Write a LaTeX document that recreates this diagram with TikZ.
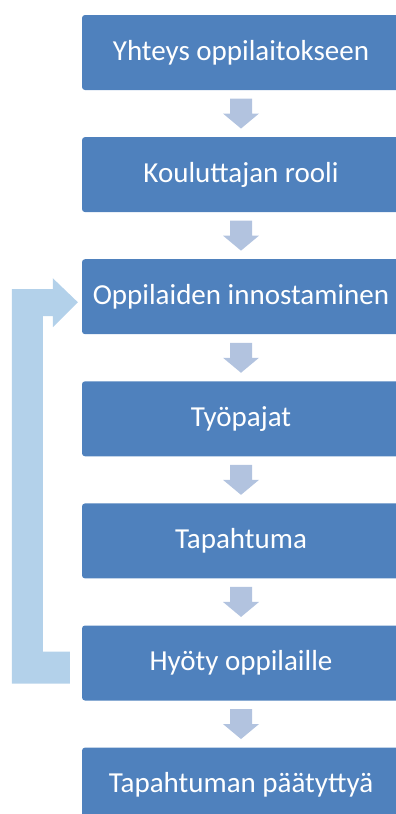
\documentclass[tikz,border=0pt]{standalone}
\usepackage{fontspec}
\setmainfont{Carlito}
\usetikzlibrary{positioning, calc}
\definecolor{boxblue}{HTML}{4F81BD}
\definecolor{arrowgrey}{HTML}{B2C3DF}
\definecolor{loopblue}{HTML}{B3D1EA}

\begin{document}
\begin{tikzpicture}[x=1pt, y=1pt,
    stage/.style={fill=boxblue, draw=none, rounded corners=3pt, minimum width=318pt,
      minimum height=75pt, text=white, font=\fontsize{29}{29}\selectfont},
    downarrow/.style={fill=arrowgrey}]
  \useasboundingbox (0,0) rectangle (396,-814);
  \clip (0,0) rectangle (396,-814);

  % Stages
  \node[stage] (yhteys) at (241,-52.5) {Yhteys oppilaitokseen};
  \node[stage, below=46.7pt of yhteys] (rooli) {Kouluttajan rooli};
  \node[stage, below=46.7pt of rooli] (innost) {Oppilaiden innostaminen};
  \node[stage, below=46.7pt of innost] (tyopajat) {Työpajat};
  \node[stage, below=46.7pt of tyopajat] (tapahtuma) {Tapahtuma};
  \node[stage, below=46.7pt of tapahtuma] (hyoty) {Hyöty oppilaille};
  \node[stage, below=46.7pt of hyoty] (paatos) {Tapahtuman päätyttyä};

  % Down arrows between stages
  \foreach \a/\b in {yhteys/rooli, rooli/innost, innost/tyopajat, tyopajat/tapahtuma,
                     tapahtuma/hyoty, hyoty/paatos} {
    \coordinate (m) at ($(\a.south)!0.5!(\b.north)$);
    \fill[downarrow] ($(m)+(-11,15)$) -- ($(m)+(11,15)$) -- ($(m)+(11,0)$) -- ($(m)+(18,0)$)
      -- ($(m)+(0,-15)$) -- ($(m)+(-18,0)$) -- ($(m)+(-11,0)$) -- cycle;
  }

  % Loop back from benefit to motivation
  \fill[loopblue]
    ($(hyoty.west)+(-12,11.5)$) -- ($(hyoty.west)+(-39,11.5)$)
    -- ($(innost.west)+(-39,-19.5)$) -- ($(innost.west)+(-29,-19.5)$)
    -- ($(innost.west)+(-29,-30.5)$) -- ($(innost.west)+(-4,-5.5)$)
    -- ($(innost.west)+(-29,18.5)$) -- ($(innost.west)+(-29,7.5)$)
    -- ($(innost.west)+(-70,7.5)$) -- ($(hyoty.west)+(-70,-20.5)$)
    -- ($(hyoty.west)+(-12,-20.5)$) -- cycle;
\end{tikzpicture}
\end{document}
